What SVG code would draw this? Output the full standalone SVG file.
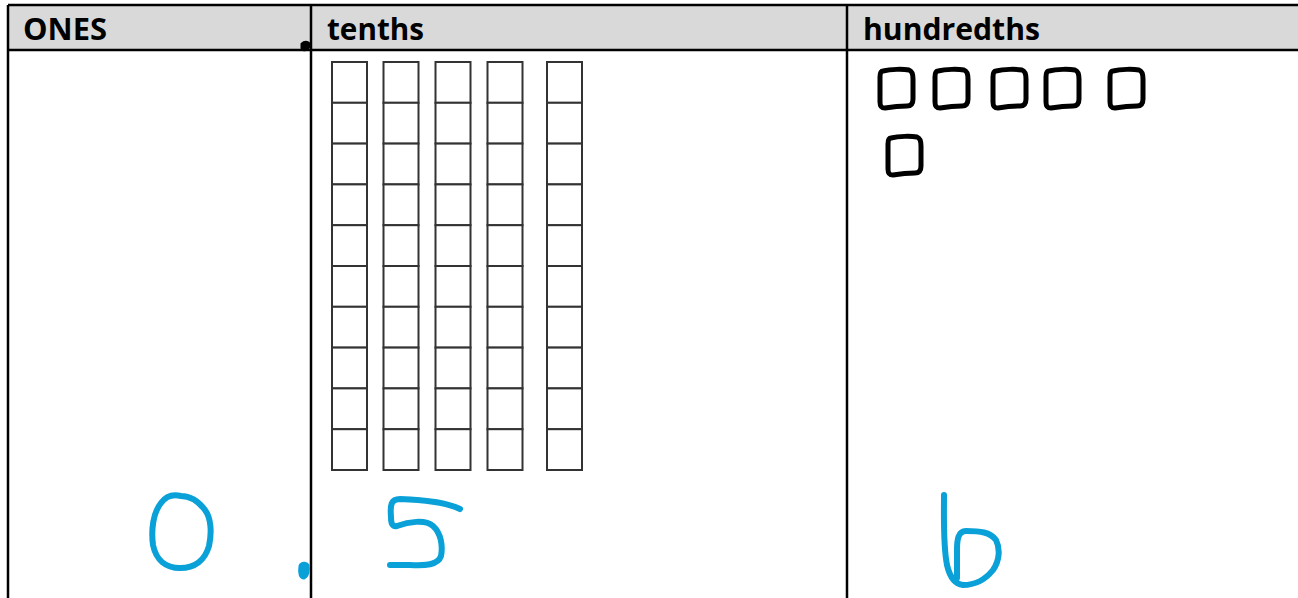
<svg xmlns="http://www.w3.org/2000/svg" width="1298" height="598" viewBox="0 0 1298 598">
<style>
.hdr{font-family:"Open Sans","Liberation Sans",Arial,sans-serif;font-weight:bold;font-size:30px;fill:#000}
.grid{stroke:#000;stroke-width:2.5;fill:none}
.cell{fill:#fff;stroke:#333;stroke-width:2}
.hand{fill:none;stroke:#000;stroke-width:5;stroke-linecap:round;stroke-linejoin:round}
.blue{fill:none;stroke:#0aa0d8;stroke-width:6;stroke-linecap:round;stroke-linejoin:round}
</style>
<defs>
<g id="col">
<rect class="cell" x="0" y="0" width="35" height="40.8"/>
<rect class="cell" x="0" y="40.8" width="35" height="40.8"/>
<rect class="cell" x="0" y="81.6" width="35" height="40.8"/>
<rect class="cell" x="0" y="122.4" width="35" height="40.8"/>
<rect class="cell" x="0" y="163.2" width="35" height="40.8"/>
<rect class="cell" x="0" y="204" width="35" height="40.8"/>
<rect class="cell" x="0" y="244.8" width="35" height="40.8"/>
<rect class="cell" x="0" y="285.6" width="35" height="40.8"/>
<rect class="cell" x="0" y="326.4" width="35" height="40.8"/>
<rect class="cell" x="0" y="367.2" width="35" height="40.8"/>
</g>
<path id="sq" d="M4,2 C12,0 24,0 30,1 C33,2 34,5 34,10 L34,30 C34,35 32,37 28,37 C20,37 12,38 6,39 C2,39 1,37 1,33 L1,8 C1,4 2,2 4,2 Z"/>
</defs>
<g id="table">
<rect x="8" y="5" width="1292" height="45" fill="#d9d9d9"/>
<line class="grid" x1="8" y1="5" x2="1298" y2="5"/>
<line class="grid" x1="8" y1="50" x2="1298" y2="50"/>
<line class="grid" x1="8" y1="5" x2="8" y2="598"/>
<line class="grid" x1="311" y1="5" x2="311" y2="598"/>
<line class="grid" x1="847" y1="5" x2="847" y2="598"/>
</g>
<g id="header-ones"><text class="hdr" x="23" y="40" textLength="84" lengthAdjust="spacingAndGlyphs">ONES</text></g>
<g id="header-tenths"><text class="hdr" x="327" y="40" textLength="97" lengthAdjust="spacingAndGlyphs">tenths</text></g>
<g id="header-hundredths"><text class="hdr" x="863" y="40" textLength="177" lengthAdjust="spacingAndGlyphs">hundredths</text></g>
<g id="tenths-blocks">
<use href="#col" x="332" y="62"/>
<use href="#col" x="383.5" y="62"/>
<use href="#col" x="435.5" y="62"/>
<use href="#col" x="487.5" y="62"/>
<use href="#col" x="547" y="62"/>
</g>
<g id="hundredths-blocks">
<use href="#sq" class="hand" x="879" y="69"/>
<use href="#sq" class="hand" x="934" y="69"/>
<use href="#sq" class="hand" x="992" y="69"/>
<use href="#sq" class="hand" x="1045" y="69"/>
<use href="#sq" class="hand" x="1109" y="69"/>
<use href="#sq" class="hand" x="887" y="136"/>
</g>
<g id="decimal-dot-top">
<path d="M302,44 C305,41 310,42 309,46 C308,50 303,51 302,48 Z" fill="#000" stroke="#000" stroke-width="3"/>
</g>
<g id="digits">
<path class="blue" d="M181,496 C173,494 166,496 161,503 C153,513 151,530 153,545 C156,560 166,568 180,568 C195,568 205,560 209,546 C212,532 211,518 205,510 C199,502 191,496 181,496 Z"/>
<path d="M300,566 C301,563 306,562 308,565 C309,570 308,576 304,578 C300,578 299,573 300,566 Z" fill="#0aa0d8" stroke="#0aa0d8" stroke-width="3"/>
<path class="blue" d="M460,509 C448,503 428,500 400,499 C391,499 390,505 391,517 C391,523 392,527 397,526 C408,522 425,519 433,526 C441,533 443,546 441,556 C438,565 425,566 410,565 C400,565 395,565 390,565"/>
<path class="blue" d="M944,495 C944,520 943,545 947,565 C950,578 955,584 963,585 C974,585 985,580 993,570 C1000,560 1000,548 996,540 C990,532 980,531 966,531 C958,531 957,540 957,550 C957,560 957,570 957,578"/>
</g>
</svg>
